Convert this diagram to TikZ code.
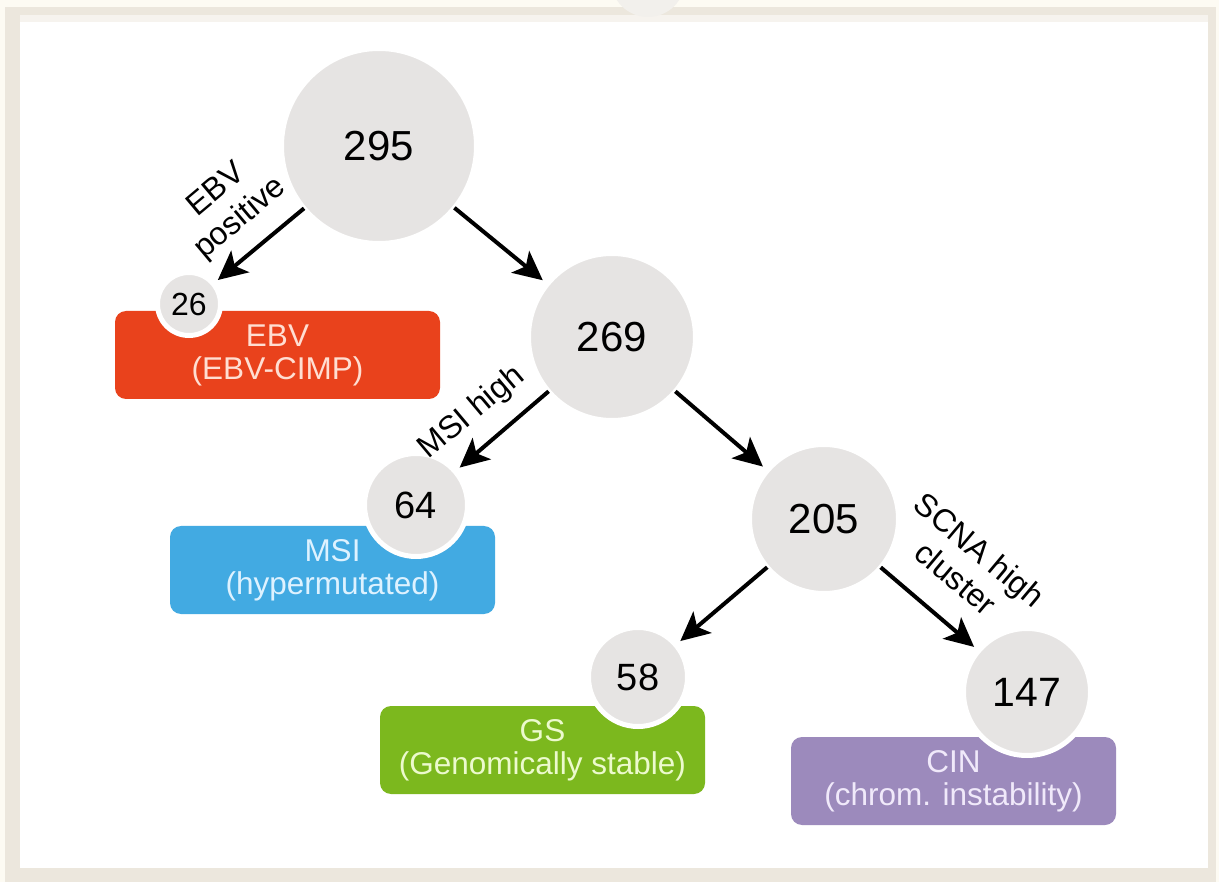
\documentclass[tikz,border=0pt]{standalone}
\usepackage{fontspec}
\setmainfont{Liberation Sans}
\usetikzlibrary{arrows.meta}
\definecolor{bgcream}{RGB}{253,251,243}
\definecolor{framebeige}{RGB}{236,231,221}
\definecolor{circgray}{RGB}{230,228,227}
\definecolor{ebvred}{RGB}{233,66,28}
\definecolor{msiblue}{RGB}{66,170,226}
\definecolor{gsgreen}{RGB}{124,184,30}
\definecolor{cinpurple}{RGB}{156,138,188}
\definecolor{ebvtext}{RGB}{255,222,210}
\definecolor{msitext}{RGB}{222,242,255}
\definecolor{gstext}{RGB}{236,250,205}
\definecolor{cintext}{RGB}{240,233,250}
\begin{document}
\begin{tikzpicture}[x=1pt,y=-1pt,
  count/.style={circle, fill=circgray, draw=white, line width=5pt, inner sep=0pt, outer sep=0pt, text=black},
  group/.style={rounded corners=11pt, minimum width=325pt, minimum height=88pt, inner sep=0pt, align=center, font=\fontsize{31.5}{33}\selectfont},
  split/.style={-{Stealth[length=29pt,width=28pt,inset=7pt]}, line width=4pt, shorten >=6pt},
  cond/.style={align=center, font=\fontsize{32}{37}\selectfont, inner sep=0pt}]
\useasboundingbox (0,0) rectangle (1219,882);
% frame
\fill[bgcream] (0,0) rectangle (1219,882);
\fill[framebeige] (5,7) rectangle (1216,882);
\fill[framebeige!50!white] (20,15) rectangle (1208,22);
\fill[white] (20,22) rectangle (1208,868);
\begin{scope}
  \clip (0,0) rectangle (1219,20);
  \fill[circgray!45!framebeige!60!white] (648,-20) circle (37);
\end{scope}
% groups
\node[group, fill=ebvred, text=ebvtext] (ebv) at (277.5,355) {EBV\\(EBV-CIMP)};
\node[group, fill=msiblue, text=msitext] (msi) at (332.5,570) {MSI\\(hypermutated)};
\node[group, fill=gsgreen, text=gstext] (gs) at (542.5,750) {GS\\(Genomically stable)};
\node[group, fill=cinpurple, text=cintext] (cin) at (953.5,781) {CIN\\(chrom. instability)};
% counts
\node[count, minimum size=195pt, font=\fontsize{42}{42}\selectfont] (n295) at (379,146) {295};
\node[count, minimum size=167pt, font=\fontsize{42}{42}\selectfont] (n269) at (612,337) {269};
\node[count, minimum size=149pt, font=\fontsize{42}{42}\selectfont] (n205) at (824,519) {205};
\node[count, minimum size=127pt, font=\fontsize{41}{41}\selectfont] (n147) at (1027,692) {147};
\node[count, minimum size=99pt, font=\fontsize{38}{38}\selectfont] (n58) at (638,677) {58};
\node[count, minimum size=103pt, font=\fontsize{38}{38}\selectfont] (n64) at (416,505) {64};
\node[count, minimum size=63pt, font=\fontsize{32}{32}\selectfont] (n26) at (189,304) {26};
% splits
\draw[split] (n295) -- (n26);
\draw[split] (n295) -- (n269);
\draw[split] (n269) -- (n64);
\draw[split] (n269) -- (n205);
\draw[split] (n205) -- (n58);
\draw[split] (n205) -- (n147);
% conditions
\node[cond, rotate=40] (lebv) at (229,205) {EBV\\positive};
\node[cond, rotate=40] (lmsi) at (472,413) {MSI high};
\node[cond, rotate=-40] (lscna) at (968,564) {SCNA high\\cluster};
\end{tikzpicture}
\end{document}
